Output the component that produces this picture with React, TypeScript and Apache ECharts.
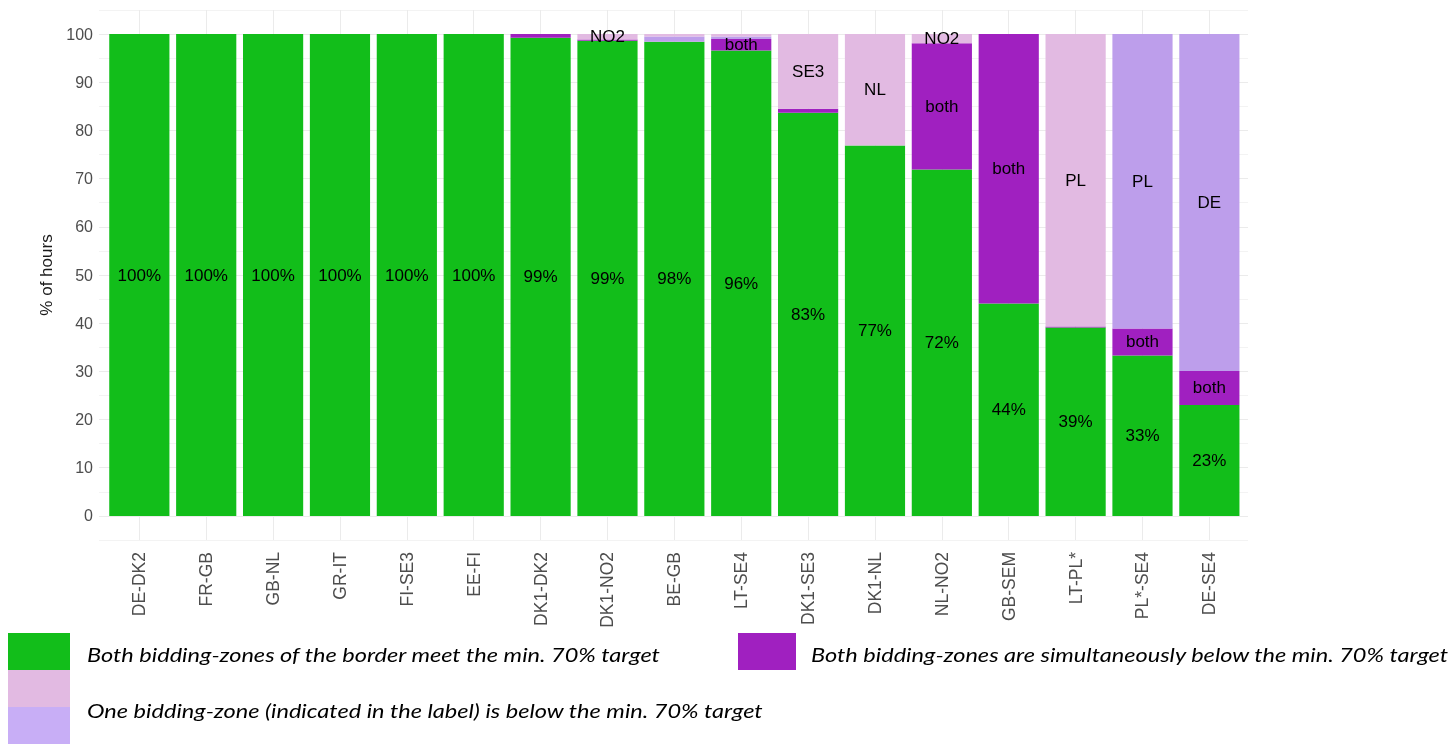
import React, { useEffect, useRef } from 'react';
import * as echarts from 'echarts';

const borders = ['DE-DK2', 'FR-GB', 'GB-NL', 'GR-IT', 'FI-SE3', 'EE-FI', 'DK1-DK2', 'DK1-NO2', 'BE-GB', 'LT-SE4', 'DK1-SE3', 'DK1-NL', 'NL-NO2', 'GB-SEM', 'LT-PL*', 'PL*-SE4', 'DE-SE4'];

// % of hours, stacked bottom-up
const bothMeet = [100, 100, 100, 100, 100, 100, 99.25, 98.6, 98.4, 96.6, 83.7, 76.9, 71.9, 44.1, 39.1, 33.3, 23.0];
const bothBelow = [0, 0, 0, 0, 0, 0, 0.75, 0.3, 0, 2.4, 0.8, 0, 26.2, 55.9, 0.2, 5.6, 7.1];
const firstBelow = [0, 0, 0, 0, 0, 0, 0, 0, 1.1, 0.5, 0, 0, 0, 0, 0, 61.1, 69.9];
const secondBelow = [0, 0, 0, 0, 0, 0, 0, 1.1, 0.5, 0.5, 15.5, 23.1, 1.9, 0, 60.7, 0, 0];

const bothMeetLabels = ['100%', '100%', '100%', '100%', '100%', '100%', '99%', '99%', '98%', '96%', '83%', '77%', '72%', '44%', '39%', '33%', '23%'];
const bothBelowLabels = ['', '', '', '', '', '', '', '', '', 'both', '', '', 'both', 'both', '', 'both', 'both'];
const firstBelowLabels = ['', '', '', '', '', '', '', '', '', '', '', '', '', '', '', 'PL', 'DE'];
const secondBelowLabels = ['', '', '', '', '', '', '', 'NO2', '', '', 'SE3', 'NL', 'NO2', '', 'PL', '', ''];

const yTicks = [0, 10, 20, 30, 40, 50, 60, 70, 80, 90, 100];

const legendTexts = [
  'Both bidding-zones of the border meet the min. 70% target',
  'Both bidding-zones are simultaneously below the min. 70% target',
  'One bidding-zone (indicated in the label) is below the min. 70% target',
];

const GREEN = '#12BE1A';
const PURPLE = '#A020C0';
const PINK = '#E2BAE2';
const LAVENDER = '#BD9EEB';
const LAVENDER_LEGEND = '#C8AEF6';

export default function App() {
  const ref = useRef<HTMLDivElement>(null);

  useEffect(() => {
    if (!ref.current) return;
    const chart = echarts.init(ref.current, null, { renderer: 'svg' });
    const font = "'Liberation Sans', Arial, sans-serif";
    const legendFont = "Lato, 'Open Sans', sans-serif";

    const mk = (name: string, data: number[], color: string, labels: string[]) => ({
      type: 'bar',
      name,
      data,
      stack: 'total',
      xAxisIndex: 0,
      yAxisIndex: 0,
      barWidth: '90%',
      itemStyle: { color },
      label: {
        show: true,
        position: 'inside',
        color: '#000',
        fontSize: 17,
        fontFamily: font,
        formatter: (p: any) => labels[p.dataIndex],
      },
    });

    const legendText = (text: string, x: number, y: number) => ({
      type: 'text',
      x,
      y,
      scaleX: 1.24,
      style: {
        text,
        fill: '#000',
        font: `italic 19px ${legendFont}`,
        verticalAlign: 'middle',
      },
    });

    chart.setOption({
      animation: false,
      grid: [
        { left: 105.9, top: 10, width: 1136.9, height: 530 },
        { left: 99, top: 10, width: 1149, height: 530 },
      ],
      xAxis: [
        {
          type: 'category',
          gridIndex: 0,
          data: borders,
          axisLine: { show: false },
          axisTick: { show: false },
          axisLabel: { rotate: 90, fontSize: 17.5, color: '#4D4D4D', margin: 12, fontFamily: font, interval: 0 },
          splitLine: { show: true, interval: 0, alignWithLabel: true, lineStyle: { color: '#EBEBEB', width: 1 } },
        },
        { type: 'value', gridIndex: 1, show: false, min: 0, max: 1 },
      ],
      yAxis: [
        { type: 'value', gridIndex: 0, min: -5, max: 105, interval: 5, show: false },
        {
          type: 'value',
          gridIndex: 1,
          min: -5,
          max: 105,
          interval: 5,
          name: '% of hours',
          nameLocation: 'middle',
          nameGap: 44,
          nameRotate: 90,
          nameTextStyle: { fontSize: 17, color: '#1A1A1A', fontFamily: font },
          axisLine: { show: false },
          axisTick: { show: false },
          axisLabel: {
            fontSize: 16,
            color: '#4D4D4D',
            fontFamily: font,
            margin: 6,
            formatter: (v: number) => (yTicks.indexOf(v) >= 0 ? String(v) : ''),
          },
          splitLine: { show: true, lineStyle: { color: ['#F3F3F3', '#EBEBEB'], width: 1 } },
        },
      ],
      series: [
        mk('both meet', bothMeet, GREEN, bothMeetLabels),
        mk('both below', bothBelow, PURPLE, bothBelowLabels),
        mk('first below', firstBelow, LAVENDER, firstBelowLabels),
        mk('second below', secondBelow, PINK, secondBelowLabels),
      ],
      graphic: [
        { type: 'rect', shape: { x: 8, y: 633, width: 62, height: 37 }, style: { fill: GREEN } },
        { type: 'rect', shape: { x: 8, y: 670, width: 62, height: 37 }, style: { fill: PINK } },
        { type: 'rect', shape: { x: 8, y: 707, width: 62, height: 37 }, style: { fill: LAVENDER_LEGEND } },
        { type: 'rect', shape: { x: 738, y: 633, width: 58, height: 37 }, style: { fill: PURPLE } },
        legendText(legendTexts[0], 87, 655),
        legendText(legendTexts[1], 811, 655),
        legendText(legendTexts[2], 87, 711),
      ],
    });

    return () => chart.dispose();
  }, []);

  return (
    <div
      ref={ref}
      style={{ position: 'fixed', left: 0, top: 0, width: '1453px', height: '744px' }}
    />
  );
}
